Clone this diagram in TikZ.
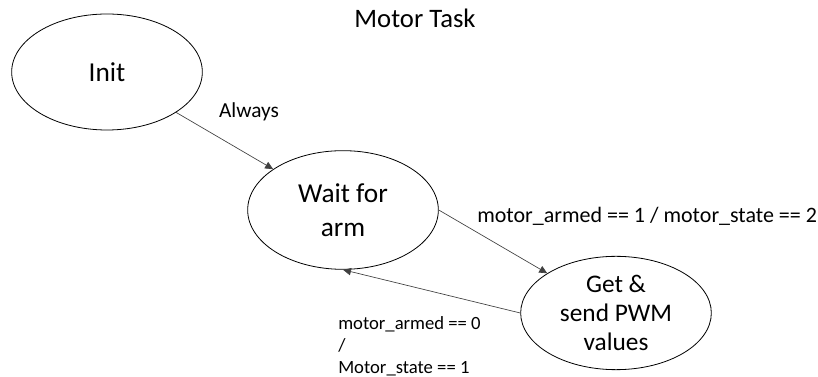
\documentclass[tikz,border=0pt]{standalone}
\usepackage{fontspec}
\setmainfont{Carlito}
\usetikzlibrary{shapes,arrows.meta}
\tikzset{state/.style={ellipse,draw,line width=0.6pt,inner sep=0pt,
   minimum width=143pt,minimum height=87pt,align=center,
   font=\fontsize{20.5}{25.5}\selectfont},
 trans/.style={draw=black!75,line width=0.5pt,-{Triangle[length=6pt,width=5.5pt]}},
 guard/.style={inner sep=0pt,font=\fontsize{16}{19}\selectfont},
 heading/.style={inner sep=0pt,font=\fontsize{20}{24}\selectfont},
 }

\begin{document}
\begin{tikzpicture}[x=0.75pt,y=-0.75pt]
        \useasboundingbox (0,0) rectangle (818,377);
        \node[heading] (title) at (415,18) {Motor Task};
        \node[state] (init) at (107,72) {Init};
        \node[state,minimum height=89pt] (wait) at (343,210) {Wait for\\arm};
        \node[state,minimum height=85pt,font=\fontsize{19}{22}\selectfont] (pwm) at (616,313) {Get \&\\send PWM\\values};
        \draw[trans] (init) -- (wait);
        \draw[trans] (wait.east) -- (pwm.150);
        \draw[trans] (pwm.west) -- (wait.south);
        \node[guard] (always) at (249,112) {Always};
        \node[guard,anchor=west,font=\fontsize{16.5}{19}\selectfont] (armed) at (477,216) {motor\_armed == 1 / motor\_state == 2};
        \node[guard,anchor=west,align=left,font=\fontsize{14}{16.5}\selectfont] (disarmed) at (338,346) {motor\_armed == 0\\/\\Motor\_state == 1};
    \end{tikzpicture}
\end{document}
